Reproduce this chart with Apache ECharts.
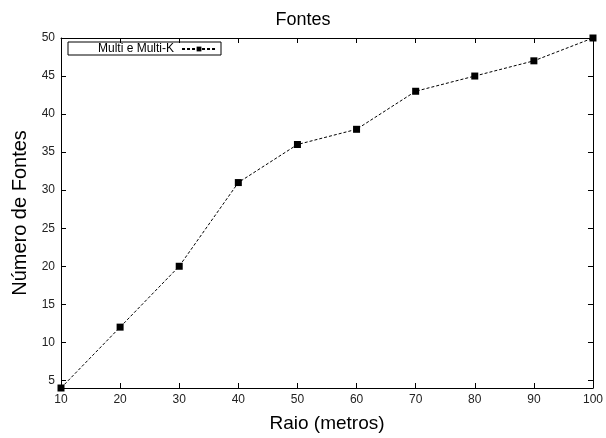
<!DOCTYPE html>
<html>
<head>
<meta charset="utf-8">
<script src="https://cdn.jsdelivr.net/npm/echarts@6/dist/echarts.min.js"></script>
<style>
  html, body { margin: 0; padding: 0; background: #fff; }
  #chart { width: 606px; height: 438px; }
</style>
</head>
<body>
<div id="chart"></div>
<script>
const raio = [10, 20, 30, 40, 50, 60, 70, 80, 90, 100];
const fontes = [4, 12, 20, 31, 36, 38, 43, 45, 47, 50];
const yTicks = [5, 10, 15, 20, 25, 30, 35, 40, 45, 50];
const seriesName = "Multi e Multi-K";

const font = "Liberation Sans, Arial, sans-serif";

const tickStyle = {
  show: true,
  inside: true,
  length: 5,
  lineStyle: { color: "#000", width: 1 }
};

const xBase = {
  type: "value",
  min: 10,
  max: 100,
  interval: 10,
  axisLine: { show: true, onZero: false, lineStyle: { color: "#000", width: 1 } },
  axisTick: tickStyle,
  splitLine: { show: false }
};

const yBase = {
  type: "value",
  min: 4,
  max: 50,
  axisLine: { show: true, onZero: false, lineStyle: { color: "#000", width: 1 } },
  axisTick: Object.assign({}, tickStyle, { customValues: yTicks }),
  splitLine: { show: false }
};

const chart = echarts.init(document.getElementById("chart"));
chart.setOption({
  animation: false,
  title: {
    text: "Fontes",
    left: "center",
    top: 11,
    padding: 0,
    textStyle: { fontFamily: font, fontSize: 18, fontWeight: "normal", color: "#000" }
  },
  legend: {
    left: 68,
    top: 42,
    align: "right",
    padding: [1, 4, 0, 30],
    itemGap: 0,
    itemWidth: 34,
    itemHeight: 6,
    borderColor: "#000",
    borderWidth: 1,
    borderRadius: 0,
    textStyle: { fontFamily: font, fontSize: 12, color: "#000", padding: [0, 3, 0, 0] },
    data: [seriesName]
  },
  grid: { left: 61, right: 10, top: 38, bottom: 45 },
  xAxis: [
    Object.assign({}, xBase, {
      position: "bottom",
      name: "Raio (metros)",
      nameLocation: "middle",
      nameGap: 26,
      nameTextStyle: { fontFamily: font, fontSize: 19, color: "#000" },
      axisLabel: { fontFamily: font, fontSize: 12, color: "#222", margin: 6 }
    }),
    Object.assign({}, xBase, {
      position: "top",
      axisLabel: { show: false }
    })
  ],
  yAxis: [
    Object.assign({}, yBase, {
      position: "left",
      name: "Número de Fontes",
      nameLocation: "middle",
      nameGap: 30,
      nameTextStyle: { fontFamily: font, fontSize: 20, color: "#000" },
      axisLabel: { fontFamily: font, fontSize: 12, color: "#222", margin: 6, customValues: yTicks }
    }),
    Object.assign({}, yBase, {
      position: "right",
      axisLabel: { show: false }
    })
  ],
  series: [{
    name: seriesName,
    type: "line",
    data: raio.map((r, i) => [r, fontes[i]]),
    symbol: "rect",
    symbolSize: 7,
    showAllSymbol: true,
    clip: false,
    itemStyle: { color: "#000" },
    lineStyle: { color: "#000", width: 1, type: [3, 2] }
  }]
});
</script>
</body>
</html>
